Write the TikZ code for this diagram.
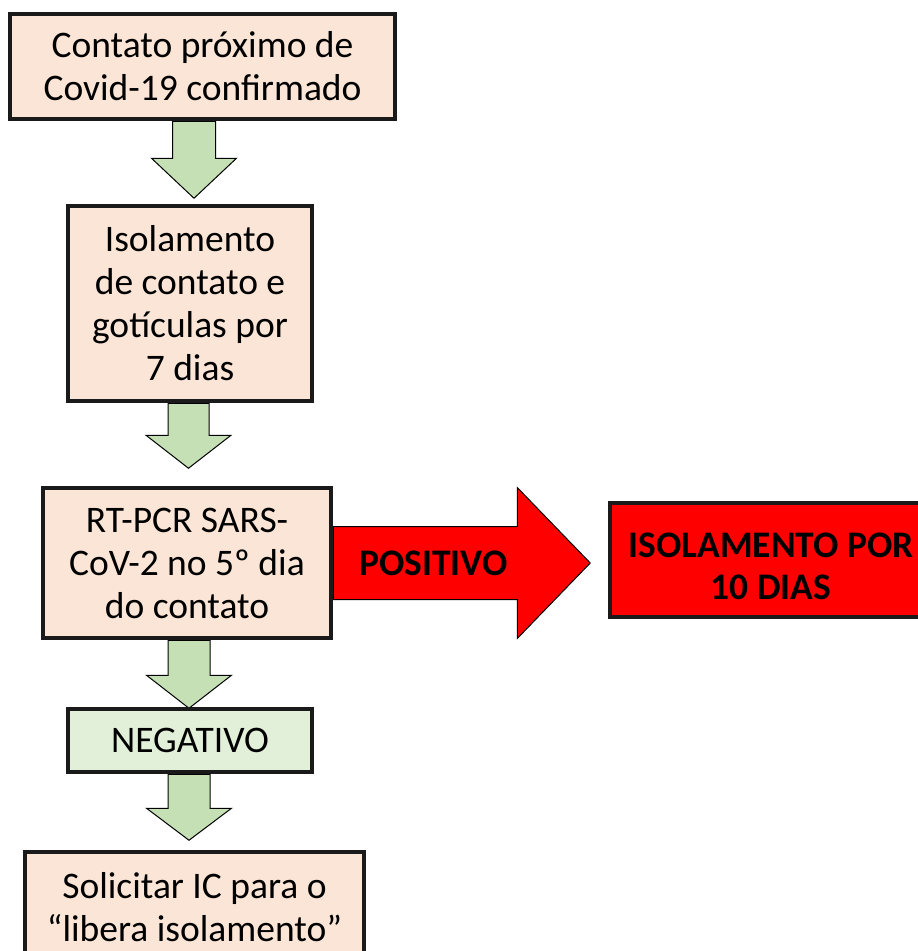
\documentclass[tikz,border=0pt]{standalone}
\usepackage{fontspec}
\setmainfont{Carlito}
\usetikzlibrary{calc,backgrounds}
\definecolor{peach}{HTML}{FBE5D6}
\definecolor{gfill}{HTML}{C5E0B4}
\definecolor{glight}{HTML}{E2F0D9}
\definecolor{bord}{HTML}{1A1A1A}
\tikzset{
 box/.style={draw=bord, line width=4.5pt, fill=peach, align=center, font=\fontsize{37.5}{43}\selectfont, inner sep=0pt},
 garrow/.style={draw=black, line width=1pt, fill=gfill, line join=miter},
 rarrow/.style={draw=black, line width=1pt, fill=red, line join=miter},
 boldlbl/.style={font=\fontsize{37.5}{42}\selectfont\bfseries, align=center, inner sep=0pt},
}
\newcommand\gdown[5]{%
 \draw[garrow] ($(#1)+(-#2,0)$) -- ($(#1)+(-#2,#4)$) -- ($(#1)+(-#3,#4)$) -- ($(#1)+(0,#5)$) -- ($(#1)+(#3,#4)$) -- ($(#1)+(#2,#4)$) -- ($(#1)+(#2,0)$) -- cycle;}
\begin{document}
\begin{tikzpicture}[x=1pt,y=-1pt]
\useasboundingbox (0,0) rectangle (918,951);
\clip (0,0) rectangle (918,951);
\node[box, minimum width=385, minimum height=105] (b1) at (202.5,66.5) {Contato próximo de\\Covid-19 confirmado};
\node[box, minimum width=244, minimum height=195] (b2) at (190,303.5) {Isolamento\\de contato e\\gotículas por\\7 dias};
\node[box, minimum width=288, minimum height=150] (b3) at (187,563) {RT-PCR SARS-\\CoV-2 no 5º dia\\do contato};
\node[box, fill=glight, minimum width=244, minimum height=63] (b4) at (190,740.5) {NEGATIVO};
\node[box, minimum width=339, minimum height=110] (b5) at (194.5,907) {Solicitar IC para o\\“libera isolamento”};
\node[box, fill=red, minimum width=322, minimum height=114] (b6) at (771,560) {};
\node[boldlbl] (t6) at ($(b6.center)+(0,6)$) {ISOLAMENTO POR\\10 DIAS};
\coordinate (s1) at ($(b1.south)+(-8.5,0)$);
\coordinate (s2) at ($(b2.south)+(-1.5,0)$);
\coordinate (s3) at ($(b3.south)+(2,0)$);
\coordinate (s4) at ($(b4.south)+(-1,0)$);
\begin{scope}[on background layer]
\gdown{s1}{21.5}{42.5}{37}{77}
\gdown{s2}{20.5}{42.5}{32}{65}
\gdown{s3}{21}{42.5}{35}{68}
\gdown{s4}{21}{42.5}{34}{66}
\draw[rarrow] ($(b3.east)+(0,-36.5)$) -- ($(b3.east)+(184,-36.5)$) -- ($(b3.east)+(184,-75.5)$) -- ($(b3.east)+(257,0)$) -- ($(b3.east)+(184,75.5)$) -- ($(b3.east)+(184,36.5)$) -- ($(b3.east)+(0,36.5)$) -- cycle;
\end{scope}
\node[boldlbl] (pos) at (433.5,563) {POSITIVO};
\end{tikzpicture}
\end{document}
